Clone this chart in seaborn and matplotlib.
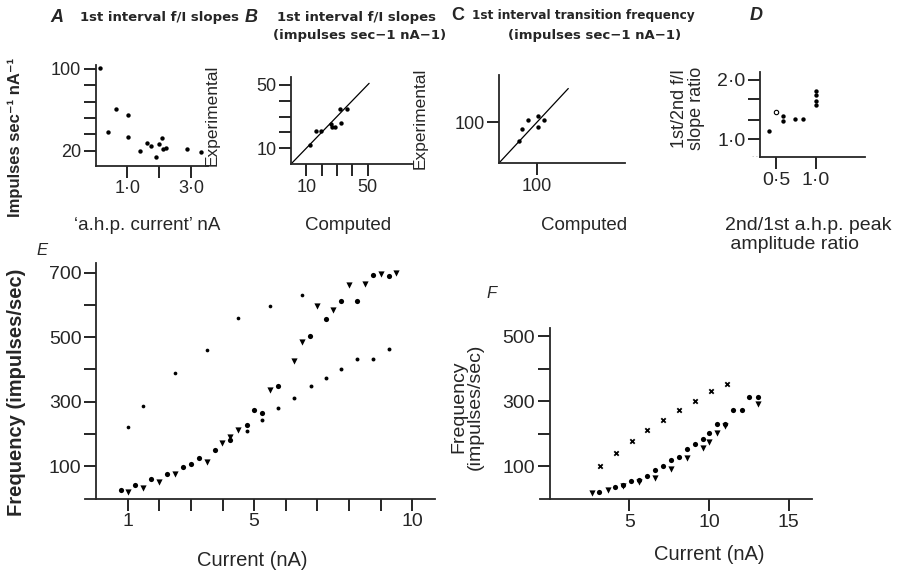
import matplotlib
matplotlib.use("Agg")
import matplotlib.pyplot as plt
import seaborn as sns

W, H = 919, 573

# ---- A: 1st interval f/I slope vs a.h.p. current ----
a_current = [0.14, 0.40, 0.64, 1.01, 1.03, 1.41, 1.62, 1.74, 1.90, 1.99, 2.10, 2.11, 2.22, 2.89, 3.31]
a_slope = [102.6, 29.1, 45.5, 40.5, 26.4, 20.0, 23.4, 22.1, 17.8, 23.0, 25.5, 20.7, 21.0, 20.7, 19.6]
a_yticks = [20, 27.6, 38.1, 52.5, 72.5, 100]
a_yticklabels = ["20", "", "", "", "", "100"]
a_xticks = [1, 2, 3]
a_xticklabels = ["1·0", "", "3·0"]

# ---- B: experimental vs computed slopes ----
b_computed = [12.5, 16.0, 19.5, 26.0, 27.0, 28.5, 32.5, 32.0, 36.5]
b_experimental = [12.0, 21.0, 21.0, 25.5, 23.5, 23.5, 26.0, 34.5, 34.5]
b_identity = [0, 51]
b_ticks = [10, 20, 30, 40, 50]
b_ticklabels = ["10", "", "", "", "50"]

# ---- C: transition frequency ----
c_computed = [52, 61, 76, 103, 103, 117]
c_experimental = [53, 84, 104, 114, 87, 104]
c_identity = [0, 182]

# ---- D: slope ratio vs a.h.p. amplitude ratio ----
d_amp_ratio = [0.41, 0.58, 0.58, 0.73, 0.83, 1.0, 1.0, 1.0, 1.0]
d_slope_ratio = [1.14, 1.39, 1.30, 1.34, 1.34, 1.81, 1.74, 1.64, 1.58]
d_open_amp = [0.5]
d_open_slope = [1.45]
d_yticks = [1.0, 1.333, 1.667, 2.0]
d_yticklabels = ["1·0", "", "", "2·0"]

# ---- E: frequency vs current ----
e_up_i = [1.0, 1.5, 2.5, 3.5, 4.5, 5.5, 6.5]
e_up_f = [222, 288, 389, 459, 559, 597, 631]
e_dot_i = [0.78, 1.24, 1.74, 2.23, 2.74, 2.99, 3.25, 3.76, 4.23, 4.76, 5.0, 5.26, 5.76, 6.76, 7.26, 7.74, 8.26, 8.77, 9.25]
e_dot_f = [26, 41, 59, 77, 98, 107, 126, 149, 182, 227, 275, 265, 350, 505, 556, 613, 613, 692, 689]
e_tri_i = [1.0, 1.5, 2.0, 2.5, 3.52, 3.99, 4.23, 4.5, 5.5, 6.26, 6.52, 7.0, 7.5, 8.0, 8.5, 9.0, 9.5]
e_tri_f = [21, 32, 52, 75, 112, 172, 191, 213, 335, 427, 485, 597, 585, 661, 665, 696, 698]
e_low_i = [4.76, 5.26, 5.76, 6.26, 6.8, 7.26, 7.74, 8.26, 8.77, 9.25]
e_low_f = [210, 244, 282, 313, 350, 375, 401, 431, 431, 463]

# ---- F: frequency vs current ----
f_up_i = [3.17, 4.15, 5.15, 6.13, 7.13, 8.13, 9.13, 10.15, 11.13]
f_up_f = [100, 141, 177, 211, 242, 272, 300, 331, 352]
f_dot_i = [3.1, 4.1, 4.6, 5.1, 5.6, 6.1, 6.6, 7.1, 7.6, 8.1, 8.6, 9.1, 9.6, 10.0, 10.5, 11.0, 11.5, 12.1, 12.5, 13.1]
f_dot_f = [22, 37, 43, 54, 59, 72, 88, 101, 121, 129, 154, 168, 185, 203, 231, 231, 272, 272, 313, 313]
f_tri_i = [2.65, 3.65, 4.6, 5.6, 6.6, 7.6, 8.6, 9.6, 10.0, 10.5, 11.0, 13.1]
f_tri_f = [18, 28, 40, 51, 66, 92, 126, 156, 176, 203, 224, 292]

sns.set_theme(style="ticks")
plt.rcParams["font.family"] = ["Liberation Sans", "DejaVu Sans"]
plt.rcParams["axes.linewidth"] = 1.3

fig = plt.figure(figsize=(W / 100, H / 100), dpi=100)


def add_ax(left, top, right, bottom):
    return fig.add_axes([left / W, 1 - bottom / H, (right - left) / W, (bottom - top) / H])


def frame(ax, size=13):
    ax.spines["top"].set_visible(False)
    ax.spines["right"].set_visible(False)
    ax.tick_params(length=8.5, width=1.2, labelsize=size, pad=2, color="black")
    ax.set_xlabel("")
    ax.set_ylabel("")


def txt(x, y, s, **kw):
    fig.text(x / W, 1 - y / H, s, **kw)


def dots(ax, x, y, s=10, marker="o"):
    sns.scatterplot(x=x, y=y, ax=ax, color="black", marker=marker, s=s,
                    linewidth=0, legend=False, clip_on=False)


# ---- panel A ----
axA = add_ax(95.7, 65, 208, 165.7)
dots(axA, a_current, a_slope)
axA.set_yscale("log")
axA.set_xlim(0, 3.54)
axA.set_ylim(14.9, 108)
axA.minorticks_off()
axA.set_yticks(a_yticks, a_yticklabels)
axA.set_xticks(a_xticks, a_xticklabels)
frame(axA)

# ---- panel B ----
axB = add_ax(291, 77, 412, 164)
dots(axB, b_computed, b_experimental)
sns.lineplot(x=b_identity, y=b_identity, ax=axB, color="black", linewidth=0.9)
axB.set_xlim(0, 79)
axB.set_ylim(0, 55)
axB.set_xticks(b_ticks, b_ticklabels)
axB.set_yticks(b_ticks, b_ticklabels)
frame(axB)

# ---- panel C ----
axC = add_ax(499, 75, 625, 163)
dots(axC, c_computed, c_experimental)
sns.lineplot(x=c_identity, y=c_identity, ax=axC, color="black", linewidth=0.9)
axC.set_xlim(0, 331)
axC.set_ylim(0, 215)
axC.set_xticks([100], ["100"])
axC.set_yticks([100], ["100"])
frame(axC)

# ---- panel D ----
axD = add_ax(752, 71.7, 865, 157.5)
dots(axD, d_amp_ratio, d_slope_ratio)
sns.scatterplot(x=d_open_amp, y=d_open_slope, ax=axD, marker="o", s=10,
                facecolor="white", edgecolor="black", linewidth=0.8, legend=False)
axD.set_xlim(0.19, 1.62)
axD.set_ylim(0.70, 2.13)
axD.spines["left"].set_position(("data", 0.29))
axD.spines["bottom"].set_bounds(0.29, 1.62)
axD.axhline(0.70, xmin=0, xmax=0.07, color="black", linestyle=":", linewidth=1.0)
axD.set_xticks([0.5, 1.0], ["0·5", "1·0"])
axD.set_yticks(d_yticks, d_yticklabels)
frame(axD, size=14)

# ---- panel E ----
axE = add_ax(85, 263, 435, 498.5)
dots(axE, e_up_i, e_up_f, s=7)
dots(axE, e_dot_i, e_dot_f, s=14)
dots(axE, e_tri_i, e_tri_f, s=20, marker="v")
dots(axE, e_low_i, e_low_f, s=8)
axE.set_xlim(-0.35, 10.72)
axE.set_ylim(0, 730)
axE.spines["left"].set_position(("data", 0))
axE.set_xticks(range(1, 11), ["1", "", "", "", "5", "", "", "", "", "10"])
axE.set_yticks(range(100, 701, 100), ["100", "", "300", "", "500", "", "700"])
frame(axE, size=14)

# ---- panel F ----
axF = add_ax(540, 328, 812, 499)
sns.scatterplot(x=f_up_i, y=f_up_f, ax=axF, color="black", marker="x", s=10,
                linewidth=1.3, legend=False)
dots(axF, f_dot_i, f_dot_f, s=14)
dots(axF, f_tri_i, f_tri_f, s=20, marker="v")
axF.set_xlim(-0.62, 16.47)
axF.set_ylim(0, 525)
axF.spines["left"].set_position(("data", 0))
axF.set_xticks([5, 10, 15], ["5", "10", "15"])
axF.set_yticks(range(100, 501, 100), ["100", "", "300", "", "500"])
frame(axF, size=14)

# ---- titles and labels ----
title_kw = dict(fontweight="bold", family="DejaVu Sans", va="center")
letter_kw = dict(fontsize=13, fontweight="bold", va="center", ha="center")
txt(57, 17, "A", style="italic", **letter_kw)
txt(80, 17, "1st interval f/I slopes", ha="left", fontsize=9.5, **title_kw)
txt(251, 17, "B", style="italic", **letter_kw)
txt(277, 17, "1st interval f/I slopes", ha="left", fontsize=9.5, **title_kw)
txt(360, 36, "(impulses sec−1 nA−1)", ha="center", fontsize=9.5, **title_kw)
txt(458, 15, "C", **letter_kw)
txt(472, 15, "1st interval transition frequency", ha="left", fontsize=8.7, **title_kw)
txt(595, 36, "(impulses sec−1 nA−1)", ha="center", fontsize=9.5, **title_kw)
txt(756, 15, "D", style="italic", **letter_kw)

txt(15, 137, "Impulses sec⁻¹ nA⁻¹", rotation=90, ha="center", va="center",
    fontsize=12, fontweight="bold")
txt(212, 115, "Experimental", rotation=90, ha="center", va="center", fontsize=12.5)
txt(420, 118, "Experimental", rotation=90, ha="center", va="center", fontsize=12.5)
txt(688, 108, "1st/2nd f/I\nslope ratio", rotation=90, ha="center", va="center",
    fontsize=13, linespacing=1.0)
txt(147, 225, "‘a.h.p. current’ nA", ha="center", va="center", fontsize=13.5)
txt(348, 225, "Computed", ha="center", va="center", fontsize=13.5)
txt(584, 225, "Computed", ha="center", va="center", fontsize=13.5)
txt(725, 235, "2nd/1st a.h.p. peak\n amplitude ratio", ha="left", va="center",
    fontsize=14, linespacing=1.1)

txt(42, 250, "E", style="italic", ha="center", va="center", fontsize=12)
txt(17, 392, "Frequency (impulses/sec)", rotation=90, ha="center", va="center",
    fontsize=14.5, fontweight="bold")
txt(252, 560, "Current (nA)", ha="center", va="center", fontsize=14.5)

txt(492, 293, "F", style="italic", ha="center", va="center", fontsize=12)
txt(467, 407, "Frequency\n(impulses/sec)", rotation=90, ha="center", va="center",
    fontsize=14, linespacing=1.0)
txt(709, 555, "Current (nA)", ha="center", va="center", fontsize=14.5)

fig.savefig("out.png", dpi=100)
